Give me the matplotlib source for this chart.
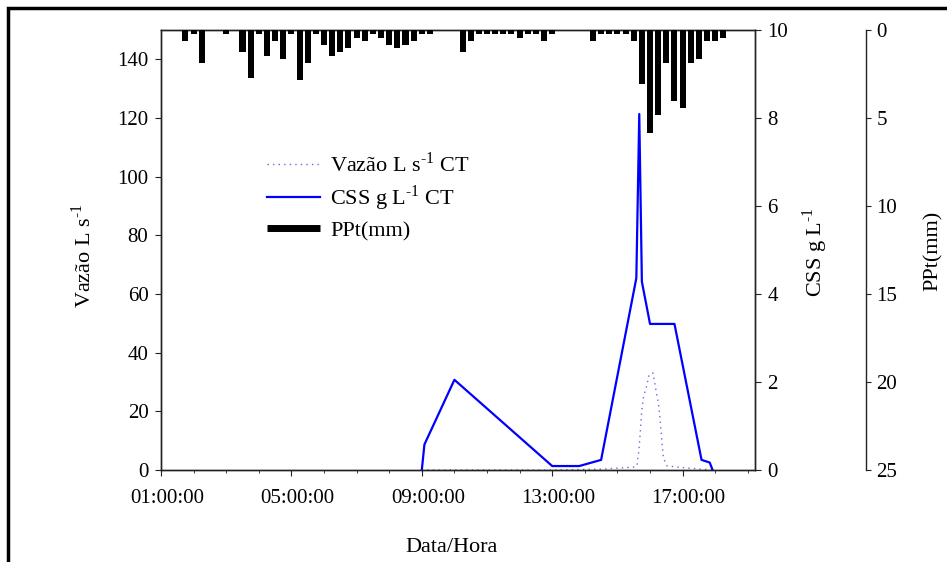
import numpy as np
import matplotlib.pyplot as plt
import matplotlib.transforms as mtransforms
from matplotlib.lines import Line2D
from matplotlib.patches import Rectangle

plt.rcParams['font.family'] = ['Liberation Serif', 'DejaVu Serif']
plt.rcParams['mathtext.fontset'] = 'custom'
plt.rcParams['mathtext.rm'] = 'Liberation Serif'

# precipitation every 15 min (hour of day, mm)
ppt_hour = [1.75, 2.0, 2.25, 3.0, 3.5, 3.75, 4.0, 4.25, 4.5, 4.75, 5.0, 5.25, 5.5, 5.75,
            6.0, 6.25, 6.5, 6.75, 7.0, 7.25, 7.5, 7.75, 8.0, 8.25, 8.5, 8.75, 9.0, 9.25,
            10.25, 10.5, 10.75, 11.0, 11.25, 11.5, 11.75, 12.0, 12.25, 12.5, 12.75, 13.0,
            14.25, 14.5, 14.75, 15.0, 15.25, 15.5, 15.75, 16.0, 16.25, 16.5, 16.75, 17.0,
            17.25, 17.5, 17.75, 18.0, 18.25]
ppt_mm = [0.65, 0.25, 1.85, 0.25, 1.25, 2.7, 0.25, 1.45, 0.65, 1.65, 0.25, 2.85, 1.85, 0.25,
          0.85, 1.45, 1.25, 1.05, 0.45, 0.65, 0.25, 0.45, 0.85, 1.05, 0.85, 0.65, 0.25, 0.25,
          1.25, 0.65, 0.25, 0.25, 0.25, 0.25, 0.25, 0.45, 0.25, 0.25, 0.65, 0.25,
          0.65, 0.25, 0.25, 0.25, 0.25, 0.65, 3.05, 5.85, 4.85, 1.85, 4.05, 4.45,
          1.85, 1.65, 0.65, 0.65, 0.45]

# suspended sediment concentration (g/L)
css_hour = [9.0, 9.08, 10.0, 13.0, 13.83, 14.5, 15.58, 15.67, 15.75, 16.0, 16.75, 17.58, 17.83, 17.92]
css = [0.0, 0.58, 2.05, 0.09, 0.09, 0.23, 4.36, 8.09, 4.28, 3.32, 3.32, 0.23, 0.17, 0.0]

# discharge (L/s)
vazao_hour = [9.0, 13.0, 14.5, 15.25, 15.5, 15.6, 15.66, 15.7, 15.74, 15.8, 15.89, 15.97,
              16.09, 16.17, 16.26, 16.31, 16.37, 16.41, 16.52, 17.0, 17.92]
vazao = [0.0, 0.0, 0.3, 0.8, 1.0, 1.4, 6.8, 12.6, 19.5, 24.9, 28.3, 32.4,
         33.1, 28.0, 22.5, 17.0, 9.2, 4.1, 1.4, 0.8, 0.0]

major_hours = [1, 5, 9, 13, 17]
major_labels = ['01:00:00', '05:00:00', '09:00:00', '13:00:00', '17:00:00']

W, H = 947, 562
fig = plt.figure(figsize=(W / 100, H / 100), dpi=100)
L, R, T, B = 161, 755, 30, 470
ax = fig.add_axes([L / W, 1 - B / H, (R - L) / W, (B - T) / H])
ax2 = ax.twinx()
ax3 = ax.twinx()

fs = 15
spine_c = '#222222'
sup = r'$^{\text{-1}}$'

# discharge, left axis
ax.plot(vazao_hour, vazao, color='#6a6ae0', lw=1.0, linestyle=(0, (1, 3)))
ax.set_xlim(1, 19.22)
ax.set_ylim(0, 150)
ax.set_yticks(np.arange(0, 141, 20))
ax.set_xticks(major_hours)
ax.set_xticklabels(major_labels)
ax.set_xticks(np.arange(1, 20, 1), minor=True)
ax.tick_params(axis='both', which='major', labelsize=fs, direction='out', color=spine_c)
ax.tick_params(axis='y', length=4, pad=5)
ax.tick_params(axis='x', which='major', length=4.5, pad=9)
ax.tick_params(axis='x', which='minor', length=2.5, color=spine_c)
ax.set_ylabel('Vazão L s' + sup, fontsize=fs + 1)
ax.yaxis.label.set(rotation_mode='default', va='center', ha='center')
ax.yaxis.set_label_coords(-0.131, 0.487)
ax.set_xlabel('Data/Hora', fontsize=fs + 1)
ax.xaxis.set_label_coords(0.49, -0.155)

offset = mtransforms.ScaledTranslation(6 / 100, 0, fig.dpi_scale_trans)
for lbl in ax.get_xticklabels():
    lbl.set_transform(lbl.get_transform() + offset)

# sediment, right axis
ax2.plot(css_hour, css, color='#0000ff', lw=1.6)
ax2.set_ylim(0, 10)
ax2.set_yticks(np.arange(0, 11, 2))
ax2.tick_params(axis='y', labelsize=fs, length=4, pad=5, color=spine_c)
ax2.set_ylabel('CSS g L' + sup, fontsize=fs + 1)
ax2.yaxis.label.set(rotation_mode='default', va='center', ha='center')
ax2.yaxis.set_label_coords(1.101, 0.495)

# rainfall, offset right axis, inverted
ax3.bar(ppt_hour, ppt_mm, width=0.185, color='black', zorder=3)
ax3.set_ylim(25, 0)
ax3.set_yticks(np.arange(0, 26, 5))
ax3.spines['right'].set_position(('axes', 1.187))
ax3.tick_params(axis='y', labelsize=fs, length=3.5, pad=4, color=spine_c)
ax3.set_ylabel('PPt(mm)', fontsize=fs + 1)
ax3.yaxis.label.set(rotation_mode='default', va='center', ha='center')
ax3.yaxis.set_label_coords(1.30, 0.498)
for s in ['top', 'bottom', 'left']:
    ax3.spines[s].set_visible(False)

for a in (ax, ax2, ax3):
    for s in a.spines.values():
        s.set_color(spine_c)
        s.set_linewidth(1.0)

handles = [Line2D([], [], color='#6a6ae0', lw=1.0, linestyle=(0, (1, 3))),
           Line2D([], [], color='#0000ff', lw=1.6),
           Line2D([], [], color='black', lw=5, solid_capstyle='butt')]
labels = ['Vazão L s' + sup + ' CT', 'CSS g L' + sup + ' CT', 'PPt(mm)']
leg = ax3.legend(handles, labels, loc='upper left', frameon=False, fontsize=fs + 1,
                 bbox_to_anchor=(256 / W, 1 - 141 / H), bbox_transform=fig.transFigure,
                 handlelength=2.4, handletextpad=0.45, labelspacing=0.32, borderpad=0)

# outer frame (partly off the image)
fig.add_artist(Rectangle((8 / W, -0.2), 1.5, 1.2 - 8 / H, transform=fig.transFigure,
                         fill=False, lw=2.5, ec='black'))

fig.savefig('out.png', dpi=100)
